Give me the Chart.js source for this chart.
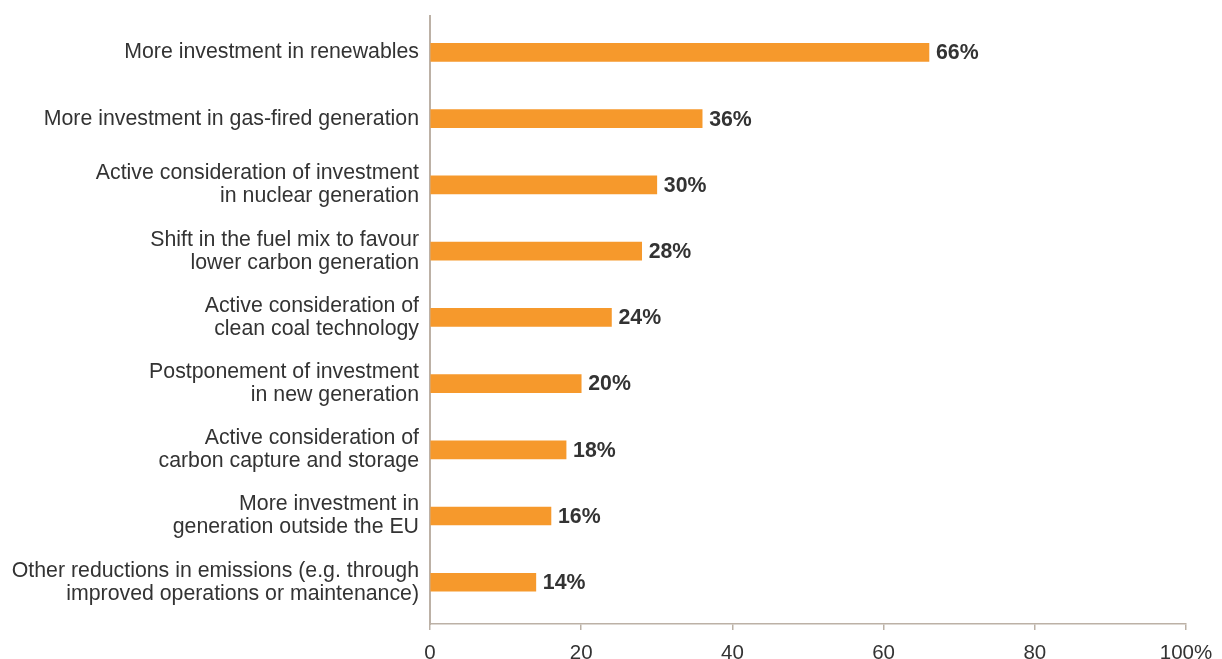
<!DOCTYPE html>
<html>
<head>
<meta charset="utf-8">
<script src="https://cdn.jsdelivr.net/npm/chart.js@4/dist/chart.umd.min.js"></script>
<style>
  html, body { margin: 0; padding: 0; background: #fff; }
  canvas { display: block; }
</style>
</head>
<body>
<canvas id="chart" width="1222" height="659"></canvas>
<script>
const CATEGORIES = [
  "More investment in renewables",
  "More investment in gas-fired generation",
  ["Active consideration of investment", "in nuclear generation"],
  ["Shift in the fuel mix to favour", "lower carbon generation"],
  ["Active consideration of", "clean coal technology"],
  ["Postponement of investment", "in new generation"],
  ["Active consideration of", "carbon capture and storage"],
  ["More investment in", "generation outside the EU"],
  ["Other reductions in emissions (e.g. through", "improved operations or maintenance)"],
];
const VALUES = [66, 36, 30, 28, 24, 20, 18, 16, 14];
const X_TICKS = [0, 20, 40, 60, 80, 100];

const ORANGE = "#f6992c";
const AXIS = "#bcb1a6";
const TEXT = "#333333";
const FONT = "'Liberation Sans', Arial, Helvetica, sans-serif";

// value labels after each bar
const barLabels = {
  id: "barLabels",
  afterDatasetsDraw(chart) {
    const { ctx } = chart;
    const meta = chart.getDatasetMeta(0);
    ctx.save();
    ctx.font = `bold 21.3px ${FONT}`;
    ctx.fillStyle = TEXT;
    ctx.textAlign = "left";
    ctx.textBaseline = "middle";
    meta.data.forEach((bar, i) => {
      ctx.fillText(`${VALUES[i]}%`, bar.x + 7, bar.y + 1);
    });
    ctx.restore();
  },
};

new Chart(document.getElementById("chart"), {
  type: "bar",
  data: {
    datasets: [{
      data: VALUES.map((v, i) => ({ x: v, y: i })),
      backgroundColor: ORANGE,
      barThickness: 18,
    }],
  },
  plugins: [barLabels],
  options: {
    indexAxis: "y",
    responsive: false,
    animation: false,
    devicePixelRatio: 1,
    layout: { padding: { top: 16, right: 36, left: 0, bottom: 0 } },
    plugins: { legend: { display: false }, tooltip: { enabled: false } },
    scales: {
      x: {
        type: "linear",
        min: 0,
        max: 100,
        afterBuildTicks: (s) => { s.ticks = X_TICKS.map((v) => ({ value: v })); },
        afterFit: (s) => { s.height = 35; s.paddingLeft = 0; s.paddingRight = 0; },
        grid: { drawOnChartArea: false, tickLength: 6, color: AXIS, lineWidth: 1.5 },
        border: { display: true, color: AXIS, width: 1.5 },
        ticks: {
          padding: 11,
          maxRotation: 0,
          color: TEXT,
          font: { family: FONT, size: 20.5 },
          callback: (v) => (v === 100 ? "100%" : v),
        },
      },
      y: {
        type: "linear",
        reverse: true,
        offset: false,
        min: -0.55,
        max: 8.63,
        afterBuildTicks: (s) => { s.ticks = CATEGORIES.map((_, i) => ({ value: i })); },
        afterFit: (s) => { s.width = 430; s.paddingTop = 0; s.paddingBottom = 0; },
        grid: { display: false, drawTicks: false },
        border: { display: true, color: AXIS, width: 2 },
        ticks: {
          padding: 11,
          color: TEXT,
          font: { family: FONT, size: 21.3, lineHeight: 1.08 },
          callback: (v) => CATEGORIES[v],
        },
      },
    },
  },
});
</script>
</body>
</html>
